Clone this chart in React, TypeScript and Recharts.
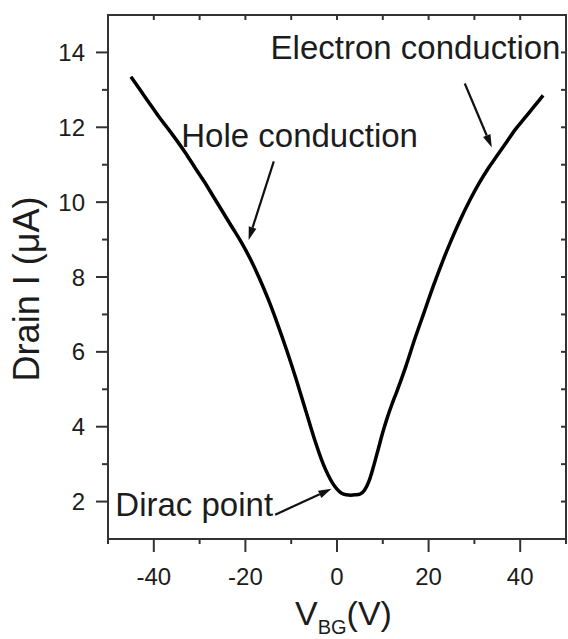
import { LineChart, Line, XAxis, YAxis, ReferenceLine, ReferenceDot } from "recharts";

const vbg = [
  -45, -43, -41, -39, -37, -35, -33, -31, -29, -27, -25, -23, -21, -19, -17, -15, -13, -11, -9, -7, -5, -3, -1,
  0, 1, 2, 3, 4, 5, 6, 7, 8, 9, 10, 11, 12, 13, 15, 17, 19, 21, 23, 25, 27, 29, 31, 33, 35, 37, 39, 41, 43, 45,
];
const drain = [
  13.35, 13.0, 12.65, 12.3, 11.98, 11.65, 11.3, 10.92, 10.55, 10.15, 9.75, 9.35, 8.95, 8.5, 7.98, 7.4, 6.75, 6.05,
  5.3, 4.5, 3.7, 3.0, 2.5, 2.33, 2.22, 2.18, 2.17, 2.18, 2.2, 2.3, 2.55, 2.95, 3.4, 3.85, 4.25, 4.6, 4.92, 5.6, 6.35,
  7.05, 7.75, 8.4, 9.0, 9.55, 10.05, 10.5, 10.9, 11.25, 11.6, 11.95, 12.25, 12.55, 12.85,
];

const xTicks = [-50, -40, -30, -20, -10, 0, 10, 20, 30, 40, 50];
const yTicks = [1, 2, 3, 4, 5, 6, 7, 8, 9, 10, 11, 12, 13, 14, 15];

// annotation texts and arrows, in data units
const notes = [
  { text: "Hole conduction", x: -34, y: 11.47 },
  { text: "Electron conduction", x: -14.5, y: 13.83 },
  { text: "Dirac point", x: -48.4, y: 1.625 },
];
const arrows = [
  { from: { x: -13.8, y: 11.09 }, to: { x: -19.3, y: 8.99 } },
  { from: { x: 27.9, y: 13.17 }, to: { x: 33.8, y: 11.46 } },
  { from: { x: -13.5, y: 1.65 }, to: { x: -1.2, y: 2.34 } },
];

const data = vbg.map((v, i) => ({ v, i: drain[i] }));

const W = 568;
const H = 639;
const M = { top: 15, right: 2, left: 108, bottom: 100 };
const FONT = "'Liberation Sans', Arial, sans-serif";
const INK = "#1c1c1c";
const AXIS = "#333";

const BottomTick = ({ x, y, payload }: any) => {
  const major = payload.value % 20 === 0;
  return (
    <g>
      <line x1={x} x2={x} y1={y} y2={y + (major ? 13 : 5)} stroke={AXIS} strokeWidth={2} />
      {major && (
        <text x={x} y={y + 46} textAnchor="middle" fontSize={24} fontFamily={FONT} fill={INK}>
          {payload.value}
        </text>
      )}
    </g>
  );
};

const LeftTick = ({ x, y, payload }: any) => {
  const v = payload.value;
  if (v === 1 || v === 15) return <g />;
  const major = v % 2 === 0;
  return (
    <g>
      <line x1={x - (major ? 12 : 6)} x2={x} y1={y} y2={y} stroke={AXIS} strokeWidth={2} />
      {major && (
        <text x={x - 23} y={y + 8.5} textAnchor="end" fontSize={24} fontFamily={FONT} fill={INK}>
          {v}
        </text>
      )}
    </g>
  );
};

// top/right frame with inward ticks, laid over the chart
const Frame = () => {
  const l = M.left;
  const r = W - M.right;
  const t = M.top;
  const b = H - M.bottom;
  const x0 = xTicks[0];
  const x1 = xTicks[xTicks.length - 1];
  const y0 = yTicks[0];
  const y1 = yTicks[yTicks.length - 1];
  const px = (v: number) => l + ((v - x0) / (x1 - x0)) * (r - l);
  const py = (v: number) => b - ((v - y0) / (y1 - y0)) * (b - t);
  return (
    <svg width={W} height={H} style={{ position: "absolute", left: 0, top: 0, pointerEvents: "none" }}>
      <line x1={l - 1} y1={t} x2={r + 1} y2={t} stroke={AXIS} strokeWidth={2} />
      <line x1={r} y1={t} x2={r} y2={b + 1} stroke={AXIS} strokeWidth={2} />
      {xTicks.map((v) => (
        <line key={`t${v}`} x1={px(v)} x2={px(v)} y1={t} y2={t + 5} stroke={AXIS} strokeWidth={2} />
      ))}
      {yTicks.map((v) => (
        <line key={`r${v}`} x1={r - 5} x2={r} y1={py(v)} y2={py(v)} stroke={AXIS} strokeWidth={2} />
      ))}
    </svg>
  );
};

const Arrow = ({ x1, y1, x2, y2 }: any) => {
  const a = Math.atan2(y2 - y1, x2 - x1);
  const len = 13;
  const w = 4;
  const bx = x2 - len * Math.cos(a);
  const by = y2 - len * Math.sin(a);
  const px = -Math.sin(a) * w;
  const py = Math.cos(a) * w;
  return (
    <g>
      <line x1={x1} y1={y1} x2={bx} y2={by} stroke="#111" strokeWidth={2.2} />
      <polygon points={`${x2},${y2} ${bx + px},${by + py} ${bx - px},${by - py}`} fill="#111" />
    </g>
  );
};

export default function App() {
  return (
    <div style={{ position: "absolute", left: 0, top: 0, width: W, height: H, background: "#fff" }}>
      <LineChart width={W} height={H} data={data} margin={{ top: M.top, right: M.right, bottom: 0, left: 0 }}>
        <XAxis
          dataKey="v"
          type="number"
          domain={[-50, 50]}
          ticks={xTicks}
          interval={0}
          tickSize={0}
          tickMargin={0}
          height={M.bottom}
          stroke={AXIS}
          strokeWidth={2}
          tick={<BottomTick />}
          label={({ viewBox }: any) => (
            <text x={viewBox.x + 187} y={viewBox.y + 86} fontSize={34} fontFamily={FONT} fill={INK}>
              <tspan>V</tspan>
              <tspan dy={9} fontSize={20}>BG</tspan>
              <tspan dy={-9}>(V)</tspan>
            </text>
          )}
        />
        <YAxis
          type="number"
          domain={[1, 15]}
          ticks={yTicks}
          interval={0}
          tickSize={0}
          tickMargin={0}
          width={M.left}
          stroke={AXIS}
          strokeWidth={2}
          tick={<LeftTick />}
          label={({ viewBox }: any) => (
            <text
              x={26}
              y={viewBox.y + viewBox.height / 2 + 12}
              transform={`rotate(-90, 26, ${viewBox.y + viewBox.height / 2 + 12})`}
              textAnchor="middle"
              dominantBaseline="central"
              fontSize={36}
              fontFamily={FONT}
              fill={INK}
            >
              Drain I (μA)
            </text>
          )}
        />
        <Line
          type="monotone"
          dataKey="i"
          stroke="#000"
          strokeWidth={3.5}
          dot={false}
          isAnimationActive={false}
        />
        {arrows.map((a, k) => (
          <ReferenceLine key={k} segment={[a.from, a.to]} ifOverflow="visible" shape={(p: any) => <Arrow {...p} />} />
        ))}
        {notes.map((n) => (
          <ReferenceDot
            key={n.text}
            x={n.x}
            y={n.y}
            r={0}
            ifOverflow="visible"
            shape={(p: any) => (
              <text x={p.cx} y={p.cy} fontSize={33} fontFamily={FONT} fill={INK}>
                {n.text}
              </text>
            )}
          />
        ))}
      </LineChart>
      <Frame />
    </div>
  );
}
